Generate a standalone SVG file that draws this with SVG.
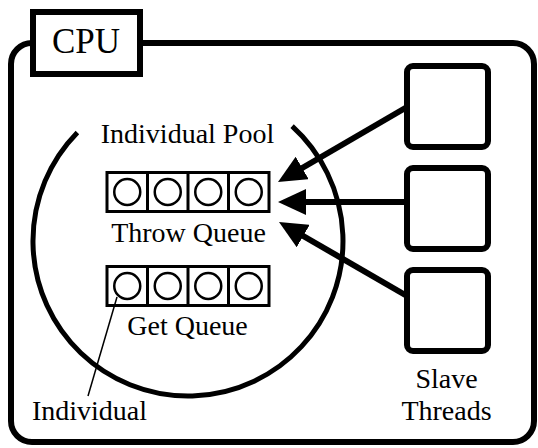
<svg xmlns="http://www.w3.org/2000/svg" width="538" height="448" viewBox="0 0 538 448">
  <style>
    .frame { fill: #fff; stroke: #000; stroke-width: 6; }
    .pool { fill: none; stroke: #000; stroke-width: 5; }
    .queue { fill: #fff; stroke: #000; stroke-width: 3; }
    .slot { fill: none; stroke: #000; stroke-width: 2.5; }
    .thread { fill: #fff; stroke: #000; stroke-width: 6; }
    .flow { fill: none; stroke: #000; stroke-width: 6; marker-end: url(#head); }
    .pointer { fill: none; stroke: #000; stroke-width: 1.5; }
    .label { font-family: "Times New Roman", "Liberation Serif", serif; font-size: 28px; fill: #000; text-anchor: middle; }
    .title { font-family: "Times New Roman", "Liberation Serif", serif; font-size: 35px; fill: #000; text-anchor: middle; }
  </style>
  <defs>
    <marker id="head" viewBox="0 0 28 26" refX="8" refY="13" markerWidth="28" markerHeight="26" markerUnits="userSpaceOnUse" orient="auto">
      <path d="M0,0 L28,13 L0,26 Z" fill="#000"/>
    </marker>
    <g id="slots">
      <rect class="queue" x="0" y="0" width="162" height="39"/>
      <line class="queue" x1="40.5" y1="0" x2="40.5" y2="39"/>
      <line class="queue" x1="81" y1="0" x2="81" y2="39"/>
      <line class="queue" x1="121.5" y1="0" x2="121.5" y2="39"/>
      <circle class="slot" cx="20.25" cy="19.5" r="13"/>
      <circle class="slot" cx="60.75" cy="19.5" r="13"/>
      <circle class="slot" cx="101.25" cy="19.5" r="13"/>
      <circle class="slot" cx="141.75" cy="19.5" r="13"/>
    </g>
  </defs>

  <!-- CPU enclosure -->
  <g id="cpu">
    <rect class="frame" x="11" y="43" width="523" height="399" rx="21" ry="21"/>
    <rect class="frame" x="33" y="12" width="107" height="62"/>
    <text class="title" x="86" y="53">CPU</text>
  </g>

  <!-- individual pool -->
  <g id="pool">
    <path class="pool" d="M292.1,126.2 A155,155 0 1 1 77.4,132.4"/>
    <text class="label" x="187.5" y="143">Individual Pool</text>
  </g>

  <g id="throw-queue">
    <use href="#slots" x="107" y="172.5"/>
    <text class="label" x="188.5" y="242">Throw Queue</text>
  </g>

  <g id="get-queue">
    <use href="#slots" x="107" y="266.5"/>
    <text class="label" x="187.5" y="335">Get Queue</text>
  </g>

  <g id="individual">
    <line class="pointer" x1="117" y1="297" x2="88" y2="396"/>
    <text class="label" x="89.5" y="420">Individual</text>
  </g>

  <!-- slave threads -->
  <g id="thread-1">
    <rect class="thread" x="407" y="66" width="81" height="81" rx="6" ry="6"/>
  </g>
  <g id="thread-2">
    <rect class="thread" x="407" y="168" width="81" height="81" rx="6" ry="6"/>
  </g>
  <g id="thread-3">
    <rect class="thread" x="407" y="270" width="81" height="81" rx="6" ry="6"/>
  </g>
  <g id="threads-label">
    <text class="label" x="446.5" y="388">Slave</text>
    <text class="label" x="446.5" y="420">Threads</text>
  </g>

  <!-- connectors: threads throw into the queue -->
  <g id="connectors">
    <line class="flow" x1="407" y1="107" x2="295.3" y2="172"/>
    <line class="flow" x1="407" y1="202" x2="298" y2="202"/>
    <line class="flow" x1="407" y1="296" x2="296.3" y2="232"/>
  </g>
</svg>
